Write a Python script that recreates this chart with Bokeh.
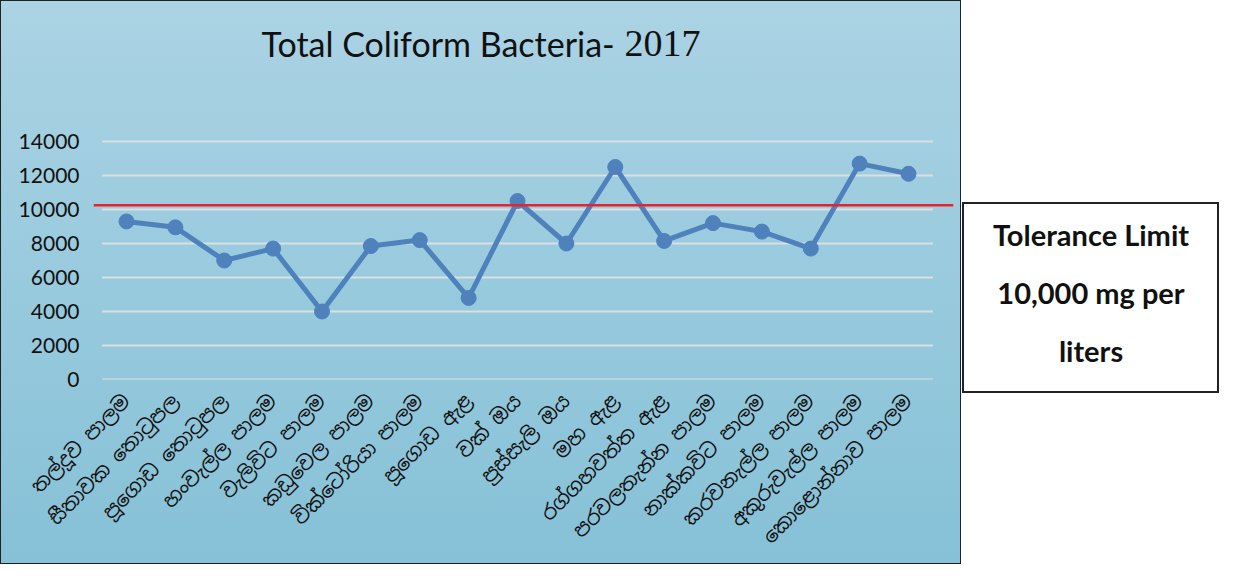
import math
from bokeh.plotting import figure
from bokeh.models import (Range1d, FixedTicker, Span, ColumnDataSource, Label, Div)
from bokeh.layouts import row
from bokeh.embed import file_html
from bokeh.resources import INLINE

# ---------------- data ----------------
sites = [
    "තල්දූව පාලම", "සීතාවක තොටුපල", "පූගොඩ තොටුපල", "හංවැල්ල පාලම",
    "වැලිවිට පාලම", "කඩුවෙල පාලම", "වික්ටෝරියා පාලම", "පූගොඩ ඇළ",
    "වක් ඔය", "පුස්සැලි ඔය", "මහ ඇළ", "රග්ගහවත්ත ඇළ",
    "පරවලතැන්න පාලම", "නාක්කවිට පාලම", "කරවනැල්ල පාලම", "අකුරුවැල්ල පාලම",
    "කොළොන්නාව පාලම",
]
coliform = [9300, 8950, 7000, 7700, 4000, 7850, 8200, 4800, 10500, 8000,
            12500, 8150, 9200, 8700, 7700, 12700, 12100]
y_ticks = [0, 2000, 4000, 6000, 8000, 10000, 12000, 14000]
tolerance_line = 10250
title_main = "Total Coliform Bacteria-"
title_year = "2017"
box_lines = ["Tolerance Limit", "10,000 mg per", "liters"]

# ---------------- chart ----------------
n = len(sites)
xs = list(range(n))
pad_l, pad_r = 0.675, 0.92
top_px, plot_px = 140, 238          # title band above the value area, value area height
y_top = y_ticks[-1] * (plot_px + top_px) / plot_px

p = figure(width=961, height=564, output_backend="svg", toolbar_location=None,
           x_range=Range1d(-pad_l, n - 1 + pad_r), y_range=Range1d(0, y_top),
           min_border_left=92, min_border_right=9, min_border_top=0,
           min_border_bottom=186)
p.background_fill_alpha = 0
p.border_fill_alpha = 0
p.outline_line_color = None
p.styles = {"background": "linear-gradient(to bottom, #abd3e4, #86c1d7)",
            "border": "1px solid #222222", "box-sizing": "border-box"}
p.xgrid.visible = False
p.ygrid.visible = False

# title (two fonts as in the original)
p.add_layout(Label(x=168, y=336, x_units="screen", y_units="screen",
                   text=title_main, text_font="Lato", text_font_size="34px",
                   text_color="#111111", text_baseline="middle", text_align="left"))
p.add_layout(Label(x=531, y=336, x_units="screen", y_units="screen",
                   text=title_year, text_font="Liberation Serif",
                   text_font_size="38px", text_color="#111111",
                   text_baseline="middle", text_align="left"))

# grid lines over category extent
p.segment(x0=[-0.5] * len(y_ticks), x1=[n - 0.5] * len(y_ticks),
          y0=y_ticks, y1=y_ticks, line_color="#dadfe2", line_width=2)

p.add_layout(Span(location=tolerance_line, dimension="width",
                  line_color="#e8242a", line_width=2.5))

src = ColumnDataSource(dict(x=xs, y=coliform))
p.line("x", "y", source=src, line_color="#4f81bd", line_width=5)
p.scatter("x", "y", source=src, size=15, fill_color="#4f81bd", line_color="#4f81bd")

p.yaxis.ticker = FixedTicker(ticks=y_ticks)
p.yaxis.axis_line_color = None
p.yaxis.major_tick_line_color = None
p.yaxis.minor_tick_line_color = None
p.yaxis.major_label_standoff = 8
p.yaxis.major_label_text_font = "Lato"
p.yaxis.major_label_text_font_size = "21px"
p.yaxis.major_label_text_color = "#111111"

p.xaxis.ticker = FixedTicker(ticks=xs)
p.xaxis.major_label_overrides = {i: s for i, s in enumerate(sites)}
p.xaxis.major_label_orientation = math.pi / 4
p.xaxis.axis_line_color = None
p.xaxis.major_tick_line_color = None
p.xaxis.minor_tick_line_color = None
p.xaxis.major_label_standoff = 12
p.xaxis.major_label_text_font = "Noto Sans Sinhala, Noto Sans"
p.xaxis.major_label_text_font_size = "20px"
p.xaxis.major_label_text_color = "#111111"

# ---------------- text box ----------------
box_html = ("<div style='width: 254px; font-family: Lato, sans-serif; font-weight: bold; "
            "font-size: 29px; color: #111111; text-align: center; "
            "line-height: 58px; padding-top: 2px;'>"
            + "<br>".join(box_lines) + "</div>")
box = Div(text=box_html, width=257, height=191, margin=(202, 0, 0, 1),
          styles={"border": "2px solid #222222", "background": "white",
                  "box-sizing": "border-box"})

layout = row(p, box)
open("out.html", "w").write(file_html(layout, INLINE))
